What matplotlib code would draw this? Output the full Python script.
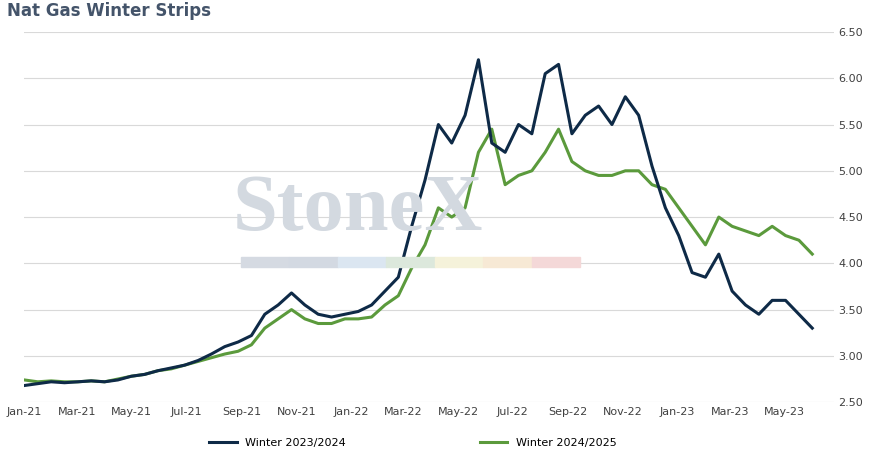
import numpy as np
import pandas as pd
import matplotlib
matplotlib.use("Agg")
import matplotlib.pyplot as plt
import matplotlib.dates as mdates

# roughly semi-monthly readings, Jan-21 .. start of Jun-23
dates = pd.to_datetime(np.linspace(pd.Timestamp("2021-01-01").value,
                                   pd.Timestamp("2023-06-01").value, 60))

winter_2324 = [2.68, 2.70, 2.72, 2.71, 2.72, 2.73, 2.72, 2.74, 2.78, 2.80, 2.84, 2.87,
               2.90, 2.95, 3.02, 3.10, 3.15, 3.22, 3.45, 3.55, 3.68, 3.55, 3.45, 3.42,
               3.45, 3.48, 3.55, 3.70, 3.85, 4.40, 4.90, 5.50, 5.30, 5.60, 6.20, 5.30,
               5.20, 5.50, 5.40, 6.05, 6.15, 5.40, 5.60, 5.70, 5.50, 5.80, 5.60, 5.05,
               4.60, 4.30, 3.90, 3.85, 4.10, 3.70, 3.55, 3.45, 3.60, 3.60, 3.45, 3.30]
winter_2425 = [2.74, 2.72, 2.73, 2.72, 2.72, 2.73, 2.72, 2.75, 2.78, 2.80, 2.84, 2.86,
               2.90, 2.94, 2.98, 3.02, 3.05, 3.12, 3.30, 3.40, 3.50, 3.40, 3.35, 3.35,
               3.40, 3.40, 3.42, 3.55, 3.65, 3.95, 4.20, 4.60, 4.50, 4.60, 5.20, 5.45,
               4.85, 4.95, 5.00, 5.20, 5.45, 5.10, 5.00, 4.95, 4.95, 5.00, 5.00, 4.85,
               4.80, 4.60, 4.40, 4.20, 4.50, 4.40, 4.35, 4.30, 4.40, 4.30, 4.25, 4.10]

fig = plt.figure(figsize=(8.73, 4.57), dpi=100)
ax = fig.add_axes([0.028, 0.12, 0.927, 0.81])

ax.plot(dates, winter_2324, color="#0e2a47", lw=2.2, label="Winter 2023/2024", zorder=3)
ax.plot(dates, winter_2425, color="#5b9a3c", lw=2.2, label="Winter 2024/2025", zorder=2)

ax.set_ylim(2.5, 6.5)
ax.set_yticks(np.arange(2.5, 6.51, 0.5))
ax.yaxis.tick_right()
ax.yaxis.set_major_formatter(matplotlib.ticker.FormatStrFormatter("%.2f"))
ax.set_xlim(pd.Timestamp("2021-01-01"), pd.Timestamp("2023-06-25"))
ax.xaxis.set_major_locator(mdates.MonthLocator(bymonth=[1, 3, 5, 7, 9, 11]))
ax.xaxis.set_major_formatter(mdates.DateFormatter("%b-%y"))
ax.grid(axis="y", color="#d9d9d9", lw=0.8)
ax.tick_params(length=0, labelsize=8, colors="#404040")
for s in ax.spines.values():
    s.set_visible(False)

# watermark
fig.text(0.41, 0.54, "StoneX", fontsize=58, family="Liberation Serif", fontweight="bold",
         color="#d3d9e0", ha="center", va="center", zorder=0)
cols = ["#d5dae2", "#d3d9e2", "#dbe6f1", "#dce8dc", "#f5f2da", "#f7e9d5", "#f4d8d8"]
for i, c in enumerate(cols):
    fig.patches.append(plt.Rectangle((0.276 + i * 0.0555, 0.415), 0.0555, 0.022,
                                     transform=fig.transFigure, color=c, zorder=0))

fig.text(0.008, 0.975, "Nat Gas Winter Strips", fontsize=12, fontweight="bold",
         color="#44546a", va="center")
ax.legend(loc="upper center", bbox_to_anchor=(0.48, -0.07), ncol=2, frameon=False,
          fontsize=8, columnspacing=12, handlelength=2.5)

fig.savefig("out.png")
